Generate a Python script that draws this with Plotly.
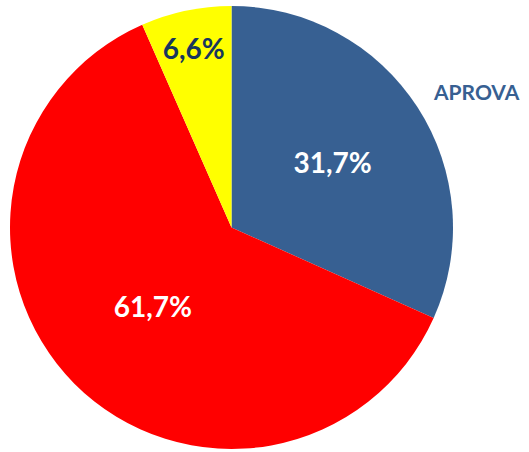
import plotly.graph_objects as go

categories = ["APROVA", "DESAPROVA", "NS/NR"]
values = [31.7, 61.7, 6.6]
colors = ["#376092", "#FF0000", "#FFFF00"]
text_colors = ["#FFFFFF", "#FFFFFF", "#17365D"]

W, H = 529, 452

fig = go.Figure(go.Pie(
    labels=categories,
    values=values,
    sort=False,
    direction="clockwise",
    rotation=0,
    marker=dict(colors=colors, line=dict(width=0)),
    texttemplate="<b>%{percent:.1%}</b>",
    textposition="inside",
    insidetextorientation="horizontal",
    textfont=dict(family="Lato", size=28, color=text_colors),
    hoverinfo="label+percent",
    showlegend=False,
    domain=dict(x=[10 / W, 453 / W], y=[1 - 449 / H, 1 - 6 / H]),
))

fig.add_annotation(
    text="<b>APROVA</b>", x=431 / W, y=1 - 91 / H, xref="paper", yref="paper",
    xanchor="left", yanchor="middle", showarrow=False,
    font=dict(family="Lato", size=21, color="#376092"),
)

fig.update_layout(
    width=W, height=H,
    margin=dict(l=0, r=0, t=0, b=0),
    paper_bgcolor="white",
    plot_bgcolor="white",
    separators=",.",
    uniformtext=dict(minsize=28, mode="show"),
    font=dict(family="Lato"),
)

fig.write_html(
    "out.html",
    config={"displayModeBar": False},
    post_script="document.body.style.margin='0';document.body.style.overflow='hidden';",
)
